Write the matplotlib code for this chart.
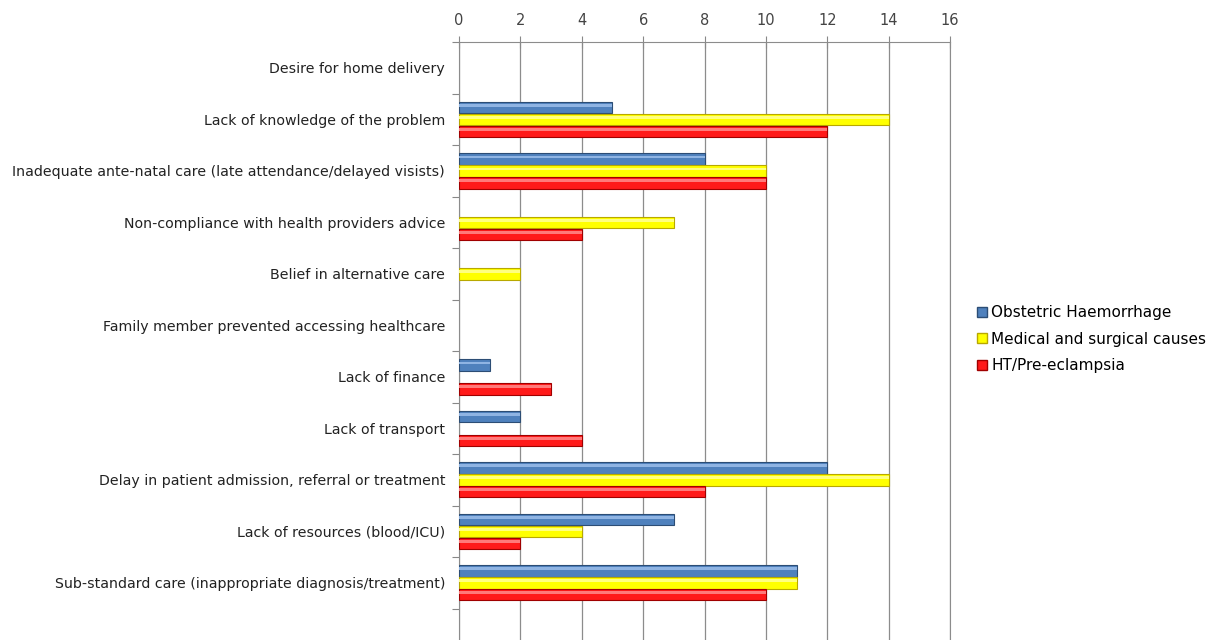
import numpy as np
import matplotlib.pyplot as plt
from matplotlib.patches import Patch

# categories, top to bottom
categories = [
    "Desire for home delivery",
    "Lack of knowledge of the problem",
    "Inadequate ante-natal care (late attendance/delayed visists)",
    "Non-compliance with health providers advice",
    "Belief in alternative care",
    "Family member prevented accessing healthcare",
    "Lack of finance",
    "Lack of transport",
    "Delay in patient admission, referral or treatment",
    "Lack of resources (blood/ICU)",
    "Sub-standard care (inappropriate diagnosis/treatment)",
]
obstetric = [0, 5, 8, 0, 0, 0, 1, 2, 12, 7, 11]
medical = [0, 14, 10, 7, 2, 0, 0, 0, 14, 4, 11]
ht_pre = [0, 12, 10, 4, 0, 0, 3, 4, 8, 2, 10]

series_names = ["Obstetric Haemorrhage", "Medical and surgical causes", "HT/Pre-eclampsia"]
x_ticks = [0, 2, 4, 6, 8, 10, 12, 14, 16]

face = ["#4f81bd", "#ffff00", "#ff1a1a"]
edge = ["#2c4d75", "#b8a800", "#a00000"]
shine = ["#8fb4e3", "#ffff80", "#ff7a7a"]

fig = plt.figure(figsize=(12.23, 6.4), dpi=100)
ax = fig.add_axes([0.3753, 0.0, 0.4015, 0.934])

y = np.arange(len(categories))
h = 0.22
step = 0.232
for k, vals in enumerate([obstetric, medical, ht_pre]):
    vals = np.array(vals)
    keep = vals > 0  # zero bars draw nothing in the original
    pos = (y + (k - 1) * step)[keep]
    ax.barh(pos, vals[keep], height=h, color=face[k], edgecolor=edge[k], linewidth=0.8, zorder=3)
    # light stripe for the glossy look
    ax.barh(pos - h * 0.18, vals[keep], height=h * 0.25, color=shine[k], linewidth=0, zorder=4)

ax.set_xlim(0, 16)
ax.set_ylim(11.11, -0.5)
ax.xaxis.tick_top()
ax.set_xticks(x_ticks)
ax.set_xticklabels([str(t) for t in x_ticks], fontsize=10.5, color="#444444")
ax.tick_params(axis="x", direction="inout", length=8, color="#888888", pad=6)

ax.set_yticks(np.arange(-0.5, 11, 1.0), minor=False)
ax.set_yticklabels([])
ax.set_yticks(y, minor=True)
ax.set_yticklabels(categories, minor=True, fontsize=10.2, color="#222222")
ax.tick_params(axis="y", which="major", direction="out", length=5, color="#888888")
ax.tick_params(axis="y", which="minor", length=0, pad=10)

ax.grid(axis="x", color="#8c8c8c", linewidth=0.9, zorder=0)
ax.spines["bottom"].set_visible(False)
for s in ["top", "left", "right"]:
    ax.spines[s].set_color("#8c8c8c")

handles = [Patch(facecolor=face[k], edgecolor=edge[k]) for k in range(3)]
fig.legend(handles, series_names, loc="center left", bbox_to_anchor=(0.788, 0.47),
           frameon=False, fontsize=11, handlelength=0.6, handleheight=0.6,
           handletextpad=0.3, labelspacing=0.75)

fig.savefig("out.png", dpi=100)
